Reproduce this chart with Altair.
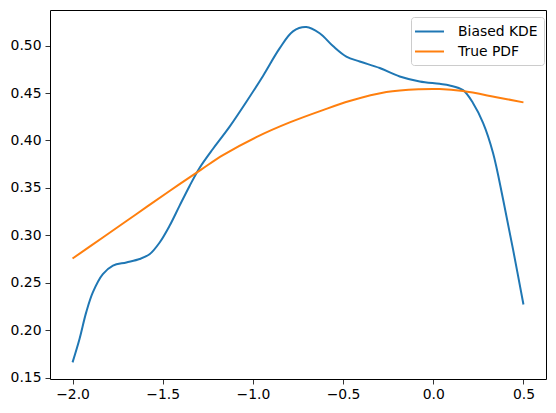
import altair as alt
import pandas as pd

# Biased KDE curve
kde_x = [-2.0, -1.961, -1.924, -1.887, -1.832, -1.776, -1.702, -1.628, -1.573, -1.517,
         -1.462, -1.407, -1.351, -1.296, -1.222, -1.166, -1.129, -1.037, -0.944, -0.852,
         -0.778, -0.704, -0.630, -0.556, -0.482, -0.408, -0.297, -0.186, -0.075, 0.035,
         0.091, 0.165, 0.220, 0.276, 0.331, 0.387, 0.442, 0.5]
kde_y = [0.166, 0.191, 0.219, 0.240, 0.259, 0.268, 0.2714, 0.275, 0.280, 0.2924,
         0.310, 0.331, 0.352, 0.371, 0.3910, 0.4050, 0.4145, 0.4405, 0.4680, 0.4970,
         0.5150, 0.5195, 0.5130, 0.4995, 0.4884, 0.4832, 0.4763, 0.4674, 0.4622, 0.4597,
         0.4580, 0.4530, 0.4395, 0.4185, 0.387, 0.338, 0.2854, 0.227]

# True PDF curve
pdf_x = [-2.0, -1.832, -1.647, -1.462, -1.285, -1.166, -0.981, -0.796, -0.612, -0.464,
         -0.26, -0.075, 0.035, 0.165, 0.35, 0.5]
pdf_y = [0.2755, 0.2977, 0.3222, 0.3467, 0.3695, 0.3845, 0.4035, 0.4190, 0.4320, 0.4415,
         0.4510, 0.4540, 0.4542, 0.4520, 0.4456, 0.4401]

series_names = ["Biased KDE", "True PDF"]
series_colors = ["#1f77b4", "#ff7f0e"]
x_ticks = [-2.0, -1.5, -1.0, -0.5, 0.0, 0.5]
y_ticks = [0.15, 0.20, 0.25, 0.30, 0.35, 0.40, 0.45, 0.50]

rows = []
for i, (xv, yv) in enumerate(zip(kde_x, kde_y)):
    rows.append({"x": xv, "y": yv, "series": series_names[0], "order": i})
for i, (xv, yv) in enumerate(zip(pdf_x, pdf_y)):
    rows.append({"x": xv, "y": yv, "series": series_names[1], "order": i})
df = pd.DataFrame(rows)

FONT = "DejaVu Sans"

chart = alt.Chart(df).mark_line(strokeWidth=2, interpolate="catmull-rom").encode(
    x=alt.X("x:Q",
            scale=alt.Scale(domain=[-2.125, 0.625], nice=False, zero=False),
            axis=alt.Axis(values=x_ticks, format=".1f", title=None, grid=False,
                          tickSize=5, tickWidth=0.8, tickColor="black",
                          labelPadding=3, labelFontSize=13.9, labelFont=FONT,
                          labelColor="black", domain=False, labelFlush=False)),
    y=alt.Y("y:Q",
            scale=alt.Scale(domain=[0.1485, 0.5375], nice=False, zero=False),
            axis=alt.Axis(values=y_ticks, format=".2f", title=None, grid=False,
                          tickSize=5, tickWidth=0.8, tickColor="black",
                          labelPadding=4, labelFontSize=13.9, labelFont=FONT,
                          labelColor="black", domain=False, labelFlush=False)),
    color=alt.Color("series:N",
                    scale=alt.Scale(domain=series_names, range=series_colors),
                    legend=alt.Legend(title=None, orient="none", legendX=361, legendY=7,
                                      symbolType="M-2,0H2", symbolSize=210,
                                      symbolOffset=4,
                                      symbolStrokeWidth=2, labelFontSize=13.9,
                                      labelFont=FONT, labelColor="black",
                                      labelOffset=20, rowPadding=4, padding=6,
                                      fillColor="white", strokeColor="#cccccc",
                                      cornerRadius=3)),
    order="order:Q",
).properties(
    width=496, height=369,
    autosize=alt.AutoSizeParams(type="none"),
    padding={"left": 50, "top": 10, "right": 10, "bottom": 34},
    background="white",
).configure_view(
    stroke="black", strokeWidth=1
)

chart.save("out.html", embed_options={"renderer": "svg", "actions": False})
